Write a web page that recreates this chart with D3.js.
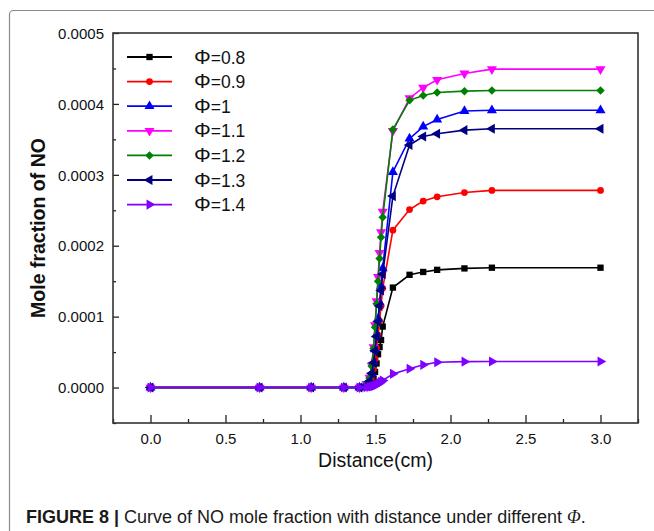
<!DOCTYPE html>
<html>
<head>
<meta charset="utf-8">
<script src="https://cdn.jsdelivr.net/npm/d3@7"></script>
<style>
  html, body { margin: 0; padding: 0; background: #fff; }
  svg { display: block; font-family: "Liberation Sans", Arial, sans-serif; }
</style>
</head>
<body>
<svg id="chart" width="654" height="531"></svg>
<script>
// Distance grid (cm) shared by all equivalence ratios
const distance = [0, 0.727, 1.071, 1.289, 1.393, 1.44, 1.46, 1.475, 1.487, 1.497, 1.507,
                  1.517, 1.527, 1.537, 1.548, 1.616, 1.727, 1.818, 1.911, 2.093, 2.276, 3.0];

// NO mole fraction for each equivalence ratio
const no_phi08 = [0, 0, 0, 0, 0, 0.000001, 0.000003, 0.000006, 0.000012, 0.000022, 0.000034,
                  0.000047, 0.000057, 0.000067, 0.000086, 0.000141, 0.000159, 0.000163, 0.000166, 0.000168, 0.000169, 0.000169];
const no_phi09 = [0, 0, 0, 0, 0, 0.000002, 0.000006, 0.000014, 0.000026, 0.000040, 0.000056,
                  0.000074, 0.000094, 0.000115, 0.000140, 0.000222, 0.000251, 0.000263, 0.000269, 0.000275, 0.000278, 0.000278];
const no_phi10 = [0, 0, 0, 0, 0, 0.000003, 0.000009, 0.000020, 0.000036, 0.000054, 0.000075,
                  0.000097, 0.000120, 0.000143, 0.000168, 0.000304, 0.000351, 0.000368, 0.000378, 0.000390, 0.000391, 0.000391];
const no_phi11 = [0, 0, 0, 0, 0, 0.000005, 0.000014, 0.000031, 0.000057, 0.000088, 0.000122,
                  0.000156, 0.000190, 0.000219, 0.000248, 0.000362, 0.000408, 0.000423, 0.000434, 0.000443, 0.000449, 0.000449];
const no_phi12 = [0, 0, 0, 0, 0, 0.000005, 0.000013, 0.000030, 0.000055, 0.000085, 0.000118,
                  0.000150, 0.000182, 0.000212, 0.000240, 0.000364, 0.000405, 0.000412, 0.000416, 0.000418, 0.000419, 0.000419];
const no_phi13 = [0, 0, 0, 0, 0, 0.000003, 0.000009, 0.000020, 0.000035, 0.000052, 0.000072,
                  0.000093, 0.000115, 0.000137, 0.000160, 0.000270, 0.000342, 0.000354, 0.000358, 0.000363, 0.000365, 0.000365];
const no_phi14 = [0, 0, 0, 0, 0, 0.0000005, 0.000001, 0.0000015, 0.000002, 0.0000028, 0.0000038,
                  0.000005, 0.0000065, 0.000008, 0.000010, 0.0000193, 0.0000264, 0.000032, 0.0000357, 0.0000365, 0.0000367, 0.0000367];

const seriesNames = ["=0.8", "=0.9", "=1", "=1.1", "=1.2", "=1.3", "=1.4"];
const seriesValues = [no_phi08, no_phi09, no_phi10, no_phi11, no_phi12, no_phi13, no_phi14];

const xTicks = [0, 0.5, 1.0, 1.5, 2.0, 2.5, 3.0];
const xMinorTicks = [-0.25, 0.25, 0.75, 1.25, 1.75, 2.25, 2.75, 3.25];
const yTicks = [0, 0.0001, 0.0002, 0.0003, 0.0004, 0.0005];
const yMinorTicks = [-0.00005, 0.00005, 0.00015, 0.00025, 0.00035, 0.00045];

// Styling per series: colour, marker shape, rotation
const styles = [
  { color: "#000000", shape: d3.symbolSquare,   size: 40, rot: 0 },
  { color: "#ff0000", shape: d3.symbolCircle,   size: 36, rot: 0 },
  { color: "#0000ff", shape: d3.symbolTriangle, size: 44, rot: 0 },
  { color: "#ff00ff", shape: d3.symbolTriangle, size: 44, rot: 180 },
  { color: "#008000", shape: d3.symbolSquare,   size: 36, rot: 45 },
  { color: "#000080", shape: d3.symbolTriangle, size: 44, rot: -90 },
  { color: "#8000ff", shape: d3.symbolTriangle, size: 44, rot: 90 }
];

const svg = d3.select("#chart");

// Outer figure frame
svg.append("rect")
  .attr("x", 9.5).attr("y", 10.5)
  .attr("width", 700).attr("height", 600)
  .attr("rx", 4)
  .attr("fill", "none")
  .attr("stroke", "#8a8a8a")
  .attr("stroke-width", 1.2);

const plotLeft = 113, plotRight = 638, plotTop = 33, plotBottom = 423;

const x = d3.scaleLinear().domain([-0.25, 3.25]).range([plotLeft, plotRight]);
const y = d3.scaleLinear().domain([-0.00005, 0.0005]).range([plotBottom, plotTop]);

// Axes (ticks pointing inward)
const gx = svg.append("g").attr("transform", `translate(0,${plotBottom})`)
  .call(d3.axisBottom(x).tickValues(xTicks).tickSizeInner(-8).tickSizeOuter(0)
        .tickPadding(10).tickFormat(d3.format(".1f")));
svg.append("g").attr("transform", `translate(0,${plotBottom})`)
  .call(d3.axisBottom(x).tickValues(xMinorTicks).tickSizeInner(-4).tickSizeOuter(0).tickFormat(""))
  .call(g => g.select(".domain").remove());

const gy = svg.append("g").attr("transform", `translate(${plotLeft},0)`)
  .call(d3.axisLeft(y).tickValues(yTicks).tickSizeInner(-6).tickSizeOuter(0)
        .tickPadding(9).tickFormat(d3.format(".4f")));
svg.append("g").attr("transform", `translate(${plotLeft},0)`)
  .call(d3.axisLeft(y).tickValues(yMinorTicks).tickSizeInner(-3).tickSizeOuter(0).tickFormat(""))
  .call(g => g.select(".domain").remove());

svg.selectAll(".tick line").attr("stroke", "#222").attr("stroke-width", 1.3);
svg.selectAll(".tick text").attr("font-size", 15).attr("fill", "#111")
  .attr("font-family", "'Liberation Sans', Arial, sans-serif");
gx.selectAll(".tick text").attr("y", 0).attr("dy", null)
  .attr("transform", "translate(0,20.5)");
gy.selectAll(".tick text").attr("x", 0).attr("dy", "0.35em")
  .attr("transform", "translate(-9,0)");
svg.selectAll(".domain").remove();

// Plot box
svg.append("rect")
  .attr("x", plotLeft).attr("y", plotTop)
  .attr("width", plotRight - plotLeft).attr("height", plotBottom - plotTop)
  .attr("fill", "none").attr("stroke", "#333").attr("stroke-width", 1.6);

// Axis titles
svg.append("text")
  .attr("x", (plotLeft + plotRight) / 2).attr("y", 467)
  .attr("text-anchor", "middle")
  .attr("font-size", 19.5).attr("fill", "#111")
  .text("Distance(cm)");

svg.append("text")
  .attr("transform", `translate(45,${(plotTop + plotBottom) / 2}) rotate(-90)`)
  .attr("text-anchor", "middle")
  .attr("font-size", 19.5).attr("font-weight", "bold").attr("fill", "#111")
  .text("Mole fraction of NO");

// Lines and markers
const line = d3.line().x(d => x(d[0])).y(d => y(d[1]));

seriesValues.forEach((vals, i) => {
  const pts = distance.map((d, j) => [d, vals[j]]);
  const st = styles[i];
  svg.append("path")
    .datum(pts)
    .attr("d", line)
    .attr("fill", "none")
    .attr("stroke", st.color)
    .attr("stroke-width", 1.6);
  svg.append("g").selectAll("path")
    .data(pts)
    .join("path")
    .attr("transform", d => `translate(${x(d[0])},${y(d[1])}) rotate(${st.rot})`)
    .attr("d", d3.symbol().type(st.shape).size(st.size))
    .attr("fill", st.color);
});

// Legend
const legend = svg.append("g");
seriesNames.forEach((name, i) => {
  const st = styles[i];
  const ly = 57 + i * 24.6;
  legend.append("line")
    .attr("x1", 127).attr("x2", 172).attr("y1", ly).attr("y2", ly)
    .attr("stroke", st.color).attr("stroke-width", 1.8);
  legend.append("path")
    .attr("transform", `translate(149.5,${ly}) rotate(${st.rot})`)
    .attr("d", d3.symbol().type(st.shape).size(st.size))
    .attr("fill", st.color);
  const t = legend.append("text")
    .attr("x", 194).attr("y", ly + 6.5)
    .attr("fill", "#111");
  t.append("tspan").attr("font-size", 21).text("Φ");
  t.append("tspan").attr("font-size", 17.5).text(name);
});

// Caption
const cap = svg.append("text")
  .attr("x", 26).attr("y", 523)
  .attr("font-size", 18).attr("fill", "#1a1a1a");
cap.append("tspan").attr("font-weight", "bold").text("FIGURE 8 | ");
cap.append("tspan").text("Curve of NO mole fraction with distance under different ");
cap.append("tspan").attr("font-style", "italic").attr("font-family", "'Liberation Serif', serif").text("Φ");
cap.append("tspan").text(".");
</script>
</body>
</html>
